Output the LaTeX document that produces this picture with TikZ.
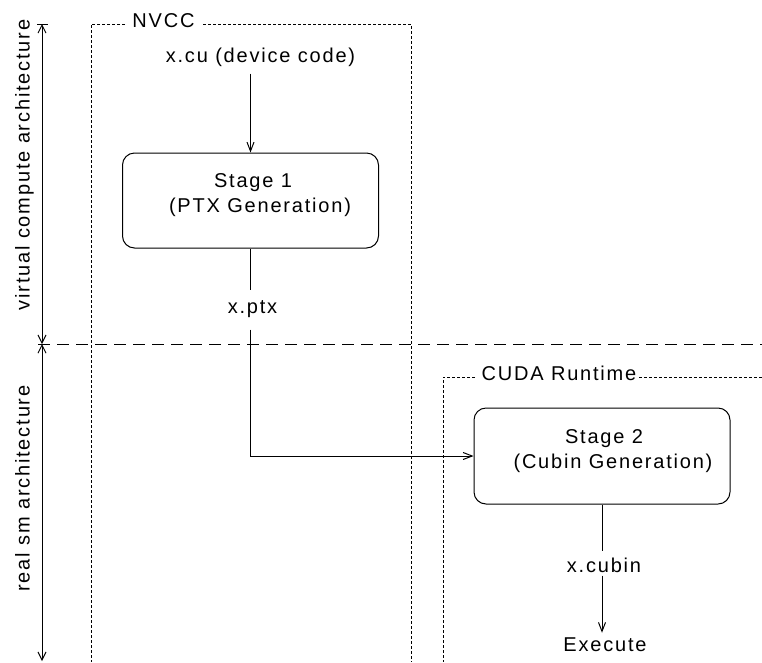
\documentclass[tikz,border=0pt]{standalone}
\usepackage{fontspec}
\setmainfont{Liberation Sans}[LetterSpace=9]
\usetikzlibrary{arrows.meta}
\begin{document}
\begin{tikzpicture}[x=1pt,y=-1pt,line width=1pt,
  lbl/.style={font=\fontsize{20}{25}\selectfont,inner sep=0pt,anchor=base},
  stagebox/.style={draw,rounded corners=12pt,minimum width=256pt,minimum height=95pt,inner sep=0pt},
  fine/.style={line width=0.8pt,dash pattern=on 3pt off 2pt},
  longdash/.style={dash pattern=on 12pt off 7pt},
  tip/.style={-{Straight Barb[length=9pt,width=7pt]}},
  bitip/.style={{Straight Barb[length=8pt,width=8pt]}-{Straight Barb[length=8pt,width=8pt]}}]
\useasboundingbox (0,0) rectangle (762,662);

% side axis
\coordinate (axtop) at (42,24);
\coordinate (axmid) at (42,344);
\coordinate (axbot) at (42,661);
\coordinate (tickl) at (37,24);
\coordinate (tickr) at (48,24);
\draw (tickl) -- (tickr);
\draw[bitip] (axtop) -- (axmid);
\draw[bitip] (axmid) -- (axbot);
\node[lbl,rotate=90] (virt) at (29.5,165) {virtual compute architecture};
\node[lbl,rotate=90] (real) at (29.5,488.5) {real sm architecture};

% divider
\coordinate (divl) at (38,344);
\coordinate (divr) at (762,344);
\draw[longdash] (divl) -- (divr);

% NVCC frame
\node[lbl] (nvcc) at (163.5,27) {NVCC};
\coordinate (n1) at (125,24);
\coordinate (n2) at (91,24);
\coordinate (n3) at (91,662);
\coordinate (n4) at (203,24);
\coordinate (n5) at (411,24);
\coordinate (n6) at (411,662);
\draw[fine] (n1) -- (n2) -- (n3);
\draw[fine] (n4) -- (n5) -- (n6);

% CUDA Runtime frame
\node[lbl] (cuda) at (559,380) {CUDA Runtime};
\coordinate (c1) at (475,377);
\coordinate (c2) at (443,377);
\coordinate (c3) at (443,662);
\coordinate (c4) at (639,377);
\coordinate (c5) at (762,377);
\draw[fine] (c1) -- (c2) -- (c3);
\draw[fine] (c4) -- (c5);

% stage 1
\node[lbl] (xcu) at (260.5,62) {x.cu (device code)};
\node[stagebox] (s1) at (250.5,200.5) {};
\node[lbl] (s1a) at (253,187) {Stage 1};
\node[lbl] (s1b) at (260,212) {(PTX Generation)};
\node[lbl] (xptx) at (252.5,313) {x.ptx};

% stage 2
\node[stagebox,minimum height=96pt] (s2) at (602,456) {};
\node[lbl] (s2a) at (604,443) {Stage 2};
\node[lbl] (s2b) at (613,468) {(Cubin Generation)};
\node[lbl] (xcubin) at (604,572) {x.cubin};
\node[lbl] (exec) at (605,651) {Execute};

% connectors
\draw[tip,shorten <=7pt] (s1.north |- xcu.south) -- (s1.north);
\draw[shorten >=10pt] (s1.south) -- (s1.south |- xptx.north);
\draw[tip,shorten <=12pt] (s1.south |- xptx.south) |- (s2.west);
\draw[shorten >=6pt] (s2.south) -- (s2.south |- xcubin.north);
\draw[tip,shorten <=3pt,shorten >=4pt] (s2.south |- xcubin.south) -- (s2.south |- exec.north);
\end{tikzpicture}
\end{document}
